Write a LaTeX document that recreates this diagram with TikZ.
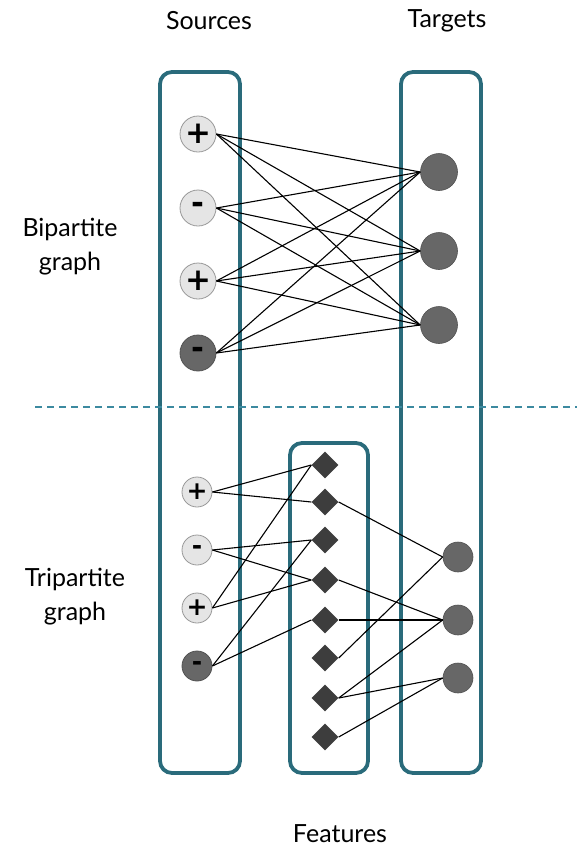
\documentclass[tikz,border=0pt]{standalone}
\usepackage{fontspec}
\setmainfont{Lato}
\newfontfamily\signfont{DejaVu Sans}
\usetikzlibrary{shapes.geometric}
\definecolor{teal1}{HTML}{2A6B7B}
\definecolor{dashc}{HTML}{3C8AA0}
\definecolor{lightn}{HTML}{E5E5E5}
\definecolor{darkn}{HTML}{676767}
\definecolor{diam}{HTML}{3D3D3D}
\begin{document}
\begin{tikzpicture}[x=1pt,y=-1pt,
  groupbox/.style={draw=teal1,line width=3.8pt,rounded corners=12pt},
  lbl/.style={font=\fontsize{25}{34}\selectfont,align=center},
  srcA/.style={circle,draw=gray!80,line width=0.8pt,fill=lightn,minimum size=36pt,inner sep=0pt,font=\signfont\bfseries\fontsize{31}{31}\selectfont},
  srcB/.style={srcA,fill=darkn,draw=darkn!80!black},
  tgtA/.style={circle,draw=darkn!80!black,line width=0.6pt,fill=darkn,minimum size=37pt,inner sep=0pt},
  srcC/.style={circle,draw=gray!80,line width=0.8pt,fill=lightn,minimum size=30pt,inner sep=0pt,font=\signfont\bfseries\fontsize{25}{25}\selectfont},
  srcD/.style={srcC,fill=darkn,draw=darkn!80!black},
  tgtB/.style={circle,draw=darkn!80!black,line width=0.6pt,fill=darkn,minimum size=30pt,inner sep=0pt},
  feat/.style={diamond,fill=diam,minimum size=27pt,inner sep=0pt},
  edge/.style={line width=1.1pt,black}]
\useasboundingbox (0,0) rectangle (577,847);
% boxes
\draw[groupbox] (160,72) rectangle (240,773);
\draw[groupbox] (401,72) rectangle (481,773);
\draw[groupbox] (290,443) rectangle (368,773);
% dashed separator
\coordinate (dl) at (35,407);
\coordinate (dr) at (577,407);
\draw[dashc,line width=1.1pt,dash pattern=on 7pt off 5pt] (dl) -- (dr);
% labels
\node[lbl] (lsrc) at (209,21) {Sources};
\node[lbl] (ltgt) at (447,21) {Targets};
\node[lbl] (lbip) at (70,247) {Bipartite\\graph};
\node[lbl] (ltri) at (75,597) {Tripartite\\graph};
\node[lbl] (lfea) at (340,834) {Features};
% bipartite nodes
\node[srcA] (s1) at (198,134) {+};
\node[srcA] (s2) at (198,208) {\raisebox{-3pt}{-}};
\node[srcA] (s3) at (198,281) {+};
\node[srcB] (s4) at (198,353) {\raisebox{-3pt}{-}};
\node[tgtA] (t1) at (439,172) {};
\node[tgtA] (t2) at (439,251) {};
\node[tgtA] (t3) at (439,325) {};
\foreach \s in {s1,s2,s3,s4}{
  \foreach \t in {t1,t2,t3}{
    \draw[edge] (\s.east) -- (\t.west);
  }
}
% tripartite nodes
\node[srcC] (u1) at (197,492) {+};
\node[srcC] (u2) at (197,550) {\raisebox{-2pt}{-}};
\node[srcC] (u3) at (197,608) {+};
\node[srcD] (u4) at (197,666) {\raisebox{-2pt}{-}};
\node[feat] (f1) at (325,465) {};
\node[feat] (f2) at (325,502) {};
\node[feat] (f3) at (325,540) {};
\node[feat] (f4) at (325,580) {};
\node[feat] (f5) at (325,620) {};
\node[feat] (f6) at (325,658) {};
\node[feat] (f7) at (325,698) {};
\node[feat] (f8) at (325,737) {};
\node[tgtB] (v1) at (458,557) {};
\node[tgtB] (v2) at (458,620) {};
\node[tgtB] (v3) at (458,678) {};
\foreach \a/\b in {u1/f1,u1/f2,u2/f3,u2/f4,u3/f1,u3/f4,u4/f3,u4/f5}{
  \draw[edge] (\a.east) -- (\b.west);
}
\foreach \a/\b in {f2/v1,f6/v1,f4/v2,f5/v2,f7/v2,f7/v3,f8/v3}{
  \draw[edge] (\a.east) -- (\b.west);
}
\end{tikzpicture}
\end{document}
